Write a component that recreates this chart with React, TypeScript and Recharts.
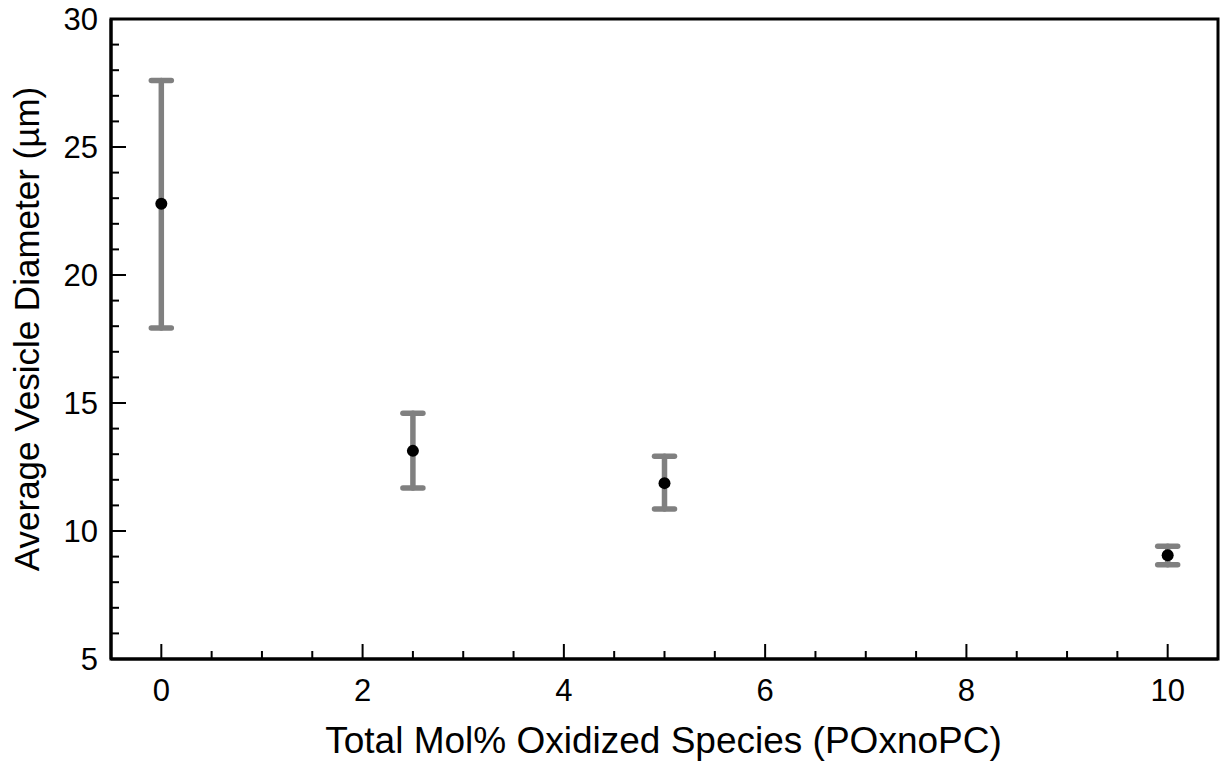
import React from "react";
import {
  ComposedChart,
  Scatter,
  XAxis,
  YAxis,
  ErrorBar,
  ReferenceArea,
} from "recharts";

const xValues = [0, 2.5, 5, 10];
const meanDiameter = [22.78, 13.13, 11.87, 9.05];
const upperBound = [27.6, 14.6, 12.92, 9.4];
const lowerBound = [17.93, 11.68, 10.86, 8.68];

const xTicks = [0, 0.5, 1, 1.5, 2, 2.5, 3, 3.5, 4, 4.5, 5, 5.5, 6, 6.5, 7, 7.5, 8, 8.5, 9, 9.5, 10];
const yTicks = [5, 6, 7, 8, 9, 10, 11, 12, 13, 14, 15, 16, 17, 18, 19, 20, 21, 22, 23, 24, 25, 26, 27, 28, 29, 30];

const xTitle = "Total Mol% Oxidized Species (POxnoPC)";
const yTitle = "Average Vesicle Diameter (µm)";

const FONT = '"Liberation Sans", Arial, Helvetica, sans-serif';

const data = xValues.map((x, i) => ({
  x,
  y: meanDiameter[i],
  err: [meanDiameter[i] - lowerBound[i], upperBound[i] - meanDiameter[i]],
}));

const XTick = (props: any) => {
  const { x, y, payload } = props;
  const v = payload.value;
  const major = Math.abs(v % 2) < 1e-9;
  return (
    <g>
      <line x1={x} y1={y} x2={x} y2={y - (major ? 15 : 8)} stroke="#000" strokeWidth={2} />
      {major && (
        <text x={x} y={y + 42} textAnchor="middle" fontSize={31} fontFamily={FONT} fill="#000">
          {v}
        </text>
      )}
    </g>
  );
};

const YTick = (props: any) => {
  const { x, y, payload } = props;
  const v = payload.value;
  const major = Math.abs(v % 5) < 1e-9;
  return (
    <g>
      <line x1={x} y1={y} x2={x + (major ? 15 : 8)} y2={y} stroke="#000" strokeWidth={2} />
      {major && (
        <text x={x - 13} y={y + 11} textAnchor="end" fontSize={31} fontFamily={FONT} fill="#000">
          {v}
        </text>
      )}
    </g>
  );
};

const XTitle = (props: any) => {
  const vb = props.viewBox || {};
  return (
    <text
      x={vb.x + vb.width / 2 - 1}
      y={vb.y + 94}
      textAnchor="middle"
      fontSize={37}
      fontFamily={FONT}
      fill="#000"
    >
      {xTitle}
    </text>
  );
};

const YTitle = (props: any) => {
  const vb = props.viewBox || {};
  const cx = 39;
  const cy = vb.y + vb.height / 2 - 10;
  return (
    <text
      x={cx}
      y={cy}
      transform={`rotate(-90, ${cx}, ${cy})`}
      textAnchor="middle"
      fontSize={35}
      fontFamily={FONT}
      fill="#000"
    >
      {yTitle}
    </text>
  );
};

export default function App() {
  return (
    <div style={{ position: "absolute", left: 0, top: 0, background: "#fff" }}>
      <ComposedChart
        width={1224}
        height={763}
        data={data}
        margin={{ top: 19, right: 6, left: 0, bottom: 0 }}
      >
        <XAxis
          type="number"
          dataKey="x"
          domain={[-0.5, 10.5]}
          ticks={xTicks}
          interval={0}
          tickSize={0}
          tickMargin={0}
          tickLine={false}
          tick={<XTick />}
          height={104}
          axisLine={{ stroke: "#000", strokeWidth: 3 }}
          allowDataOverflow
          label={<XTitle />}
        />
        <YAxis
          type="number"
          dataKey="y"
          domain={[5, 30]}
          ticks={yTicks}
          interval={0}
          tickSize={0}
          tickMargin={0}
          tickLine={false}
          tick={<YTick />}
          width={111}
          axisLine={{ stroke: "#000", strokeWidth: 3 }}
          allowDataOverflow
          label={<YTitle />}
        />
        <ReferenceArea
          x1={-0.5}
          x2={10.5}
          y1={5}
          y2={30}
          fill="none"
          fillOpacity={0}
          stroke="#000"
          strokeWidth={3}
        />
        <Scatter
          dataKey="y"
          isAnimationActive={false}
          shape={(p: any) => <circle cx={p.cx} cy={p.cy} r={6} fill="#000" />}
        >
          <ErrorBar
            dataKey="err"
            direction="y"
            width={10}
            stroke="#808080"
            strokeWidth={5.5}
            strokeLinecap="round"
            isAnimationActive={false}
          />
        </Scatter>
      </ComposedChart>
    </div>
  );
}
